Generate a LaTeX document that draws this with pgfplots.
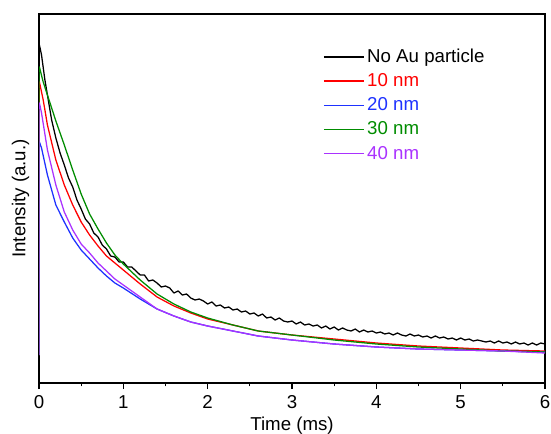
\documentclass[border=0pt]{standalone}
\usepackage{pgfplots}
\pgfplotsset{compat=1.18}
\usepackage{fontspec}
\setmainfont{Liberation Sans}
\definecolor{cblack}{RGB}{0,0,0}
\definecolor{cred}{RGB}{255,0,0}
\definecolor{cblue}{RGB}{30,50,255}
\definecolor{cgreen}{RGB}{0,140,0}
\definecolor{cpurple}{RGB}{170,50,255}
\begin{document}
\begin{tikzpicture}
\begin{axis}[
  scale only axis,
  width=379.5pt, height=276.75pt,
  xmin=0, xmax=6, ymin=0, ymax=369,
  xtick={0,1,2,3,4,5,6},
  minor x tick num=1,
  ytick=\empty,
  xtick pos=bottom,
  tick align=outside,
  major tick length=4.5pt,
  minor tick length=2.5pt,
  axis line style={line width=1.1pt},
  every tick/.style={line width=0.9pt, black},
  font=\fontsize{14}{16}\selectfont,
  ticklabel style={font=\fontsize{14}{16}\selectfont},
  xticklabel style={yshift=-1.3pt},
  /pgf/number format/assume math mode=true,
  xlabel={Time (ms)},
  ylabel={Intensity (a.u.)},
  xlabel style={yshift=0.9pt},
  every axis y label/.style={at={(axis description cs:-0.01,0.5)}, rotate=90, anchor=south},
  legend style={at={(0.553,0.92)}, anchor=north west, draw=none, fill=none,
    font=\fontsize{14}{16}\selectfont, row sep=2.8pt,
    /tikz/every even column/.append style={column sep=4pt}},
  legend cell align=left,
  legend image code/.code={\draw[#1, line width=1.1pt] (0pt,0pt) -- (30pt,0pt);},
  every axis plot/.append style={line width=0.95pt, line join=round},
]
\addplot[color=cblack] coordinates {
(0,28) (0,338) (0.005,338) (0.03,328) (0.07,303) (0.15,263) (0.2,245) (0.25,230) (0.3,218) (0.35,205) (0.4,196) (0.45,183)
(0.5,174) (0.55,164) (0.6,159) (0.65,150) (0.7,146) (0.75,138) (0.8,134) (0.85,127) (0.9,126) (0.95,121)
(1.00,121) (1.05,116) (1.10,116) (1.15,112) (1.20,108) (1.25,108) (1.30,102) (1.35,103) (1.40,100) (1.45,96)
(1.50,97) (1.55,95) (1.60,90) (1.65,92) (1.70,88) (1.75,89) (1.80,85) (1.85,83) (1.90,84) (1.95,82)
(2.00,79) (2.05,81) (2.10,77) (2.15,78) (2.20,75) (2.25,76) (2.30,73) (2.35,74) (2.40,71) (2.45,72)
(2.50,69) (2.55,70) (2.60,67) (2.65,69) (2.70,65) (2.75,66) (2.80,63) (2.85,65) (2.90,62) (2.95,61)
(3.00,62) (3.05,59) (3.10,61) (3.15,58) (3.20,59) (3.25,57) (3.30,58) (3.35,55) (3.40,57) (3.45,54)
(3.50,56) (3.55,53) (3.60,55) (3.65,53) (3.70,52) (3.75,54) (3.80,51) (3.85,53) (3.90,51) (3.95,52)
(4.00,50) (4.05,51) (4.10,49) (4.15,50) (4.20,48) (4.25,50) (4.30,48) (4.35,47) (4.40,49) (4.45,47)
(4.50,48) (4.55,46) (4.60,47) (4.65,45) (4.70,47) (4.75,45) (4.80,46) (4.85,44) (4.90,45) (4.95,43)
(5.00,45) (5.05,43) (5.10,44) (5.15,42) (5.20,43) (5.25,42) (5.30,41) (5.35,42) (5.40,40) (5.45,42)
(5.50,40) (5.55,41) (5.60,39) (5.65,41) (5.70,39) (5.75,40) (5.80,38) (5.85,40) (5.90,38) (5.95,40) (6.00,39)
};
\addplot[color=cred] coordinates {
(0,28) (0,301) (0.005,301) (0.05,283) (0.1,258) (0.2,223) (0.3,198) (0.4,178) (0.5,161) (0.6,148) (0.7,137) (0.8,127)
(0.9,120) (1.0,113) (1.2,99) (1.4,86) (1.6,77) (1.8,70) (2.0,64) (2.3,58) (2.6,52) (3.0,48) (3.5,44) (4.0,40)
(4.5,37) (5.0,35) (5.5,33) (6.0,32)
};
\addplot[color=cblue] coordinates {
(0,28) (0,241) (0.005,241) (0.03,235) (0.1,208) (0.2,178) (0.3,161) (0.4,145) (0.5,133) (0.6,124) (0.7,115) (0.8,107)
(0.9,100) (1.0,95) (1.2,84) (1.4,74) (1.6,67) (1.8,61) (2.0,57) (2.3,52) (2.6,47) (3.0,43) (3.5,39) (4.0,36)
(4.5,34) (5.0,33) (5.5,32) (6.0,31)
};
\addplot[color=cgreen] coordinates {
(0,28) (0,316) (0.005,316) (0.05,301) (0.1,288) (0.2,262) (0.3,238) (0.4,213) (0.5,189) (0.6,169) (0.7,154) (0.8,140)
(0.9,128) (1.0,119) (1.2,103) (1.4,89) (1.6,79) (1.8,71) (2.0,65) (2.3,58) (2.6,52) (3.0,48) (3.5,43) (4.0,39)
(4.5,36) (5.0,34) (5.5,32) (6.0,31)
};
\addplot[color=cpurple] coordinates {
(0,28) (0,280) (0.005,280) (0.03,270) (0.1,233) (0.2,198) (0.3,171) (0.4,153) (0.5,139) (0.6,130) (0.7,120) (0.8,112)
(0.9,104) (1.0,98) (1.2,86) (1.4,74) (1.6,67) (1.8,61) (2.0,57) (2.3,52) (2.6,47) (3.0,43) (3.5,39) (4.0,36)
(4.5,34) (5.0,33) (5.5,32) (6.0,30)
};
\legend{No Au particle, \textcolor{cred}{10 nm}, \textcolor{cblue}{20 nm}, \textcolor{cgreen}{30 nm}, \textcolor{cpurple}{40 nm}}
\end{axis}
\pgfresetboundingbox
\path (current axis.south west) ++(-29.25pt,-37.5pt) (current axis.north east) ++(4.5pt,10.5pt);
\end{tikzpicture}
\end{document}
